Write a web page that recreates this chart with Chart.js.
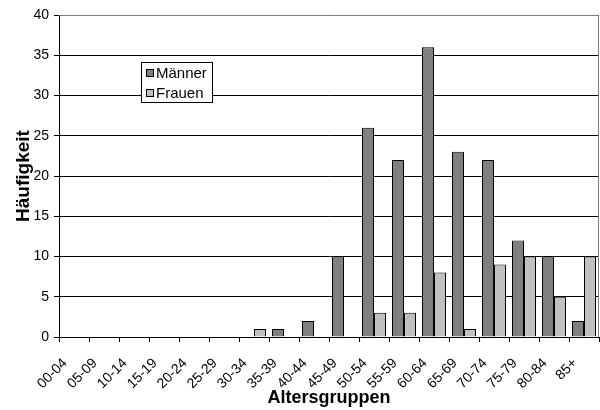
<!DOCTYPE html>
<html>
<head>
    <title>Altersgruppen</title>
    <style>
        body { margin: 0; background: #fff; }
        #chart { display: block; }
    </style>
</head>
<body>
    <canvas id="chart" width="600" height="410"></canvas>
    <script src="https://cdn.jsdelivr.net/npm/chart.js"></script>
    <script>
        const ageGroups = ['00-04', '05-09', '10-14', '15-19', '20-24', '25-29', '30-34', '35-39', '40-44',
            '45-49', '50-54', '55-59', '60-64', '65-69', '70-74', '75-79', '80-84', '85+'];
        const maenner = [0, 0, 0, 0, 0, 0, 0, 1, 2, 10, 26, 22, 36, 23, 22, 12, 10, 2];
        const frauen = [0, 0, 0, 0, 0, 0, 1, 0, 0, 0, 3, 3, 8, 1, 9, 10, 5, 10];
        const seriesNames = ['Männer', 'Frauen'];
        const seriesColors = ['#808080', '#c0c0c0'];

        const font = 'Liberation Sans, Arial, sans-serif';

        // frame round the plot and the small legend box inside it
        const boxPlugin = {
            id: 'boxPlugin',
            afterDraw(chart) {
                const c = chart.ctx;
                const a = chart.chartArea;
                c.save();
                c.strokeStyle = '#808080';
                c.lineWidth = 1;
                c.beginPath();
                c.moveTo(a.left, a.top + 0.5);
                c.lineTo(a.right - 0.5, a.top + 0.5);
                c.lineTo(a.right - 0.5, a.bottom);
                c.stroke();

                const x = 141, y = 62, w = 71, h = 40;
                c.fillStyle = '#fff';
                c.fillRect(x, y, w, h);
                c.strokeStyle = '#000';
                c.strokeRect(x + 0.5, y + 0.5, w, h);
                c.font = '15px ' + font;
                c.textBaseline = 'middle';
                chart.data.datasets.forEach((ds, i) => {
                    const cy = y + 11 + i * 20;
                    c.fillStyle = ds.backgroundColor;
                    c.fillRect(x + 5.5, cy - 3.5, 7, 7);
                    c.strokeStyle = '#000';
                    c.strokeRect(x + 5.5, cy - 3.5, 7, 7);
                    c.fillStyle = '#000';
                    c.fillText(ds.label, x + 15, cy + 1);
                });
                c.restore();
            }
        };

        new Chart(document.getElementById('chart'), {
            type: 'bar',
            data: {
                labels: ageGroups,
                datasets: [
                    { label: seriesNames[0], data: maenner, backgroundColor: seriesColors[0], borderColor: '#000', borderWidth: 1 },
                    { label: seriesNames[1], data: frauen, backgroundColor: seriesColors[1], borderColor: '#000', borderWidth: 1 }
                ]
            },
            options: {
                responsive: false,
                animation: false,
                layout: { padding: { top: 15, right: 1, left: 0, bottom: 0 } },
                datasets: { bar: { categoryPercentage: 0.8, barPercentage: 1 } },
                plugins: {
                    legend: { display: false },
                    tooltip: { enabled: false }
                },
                scales: {
                    x: {
                        offset: true,
                        grid: { offset: true, drawOnChartArea: false, drawTicks: true, tickLength: 5, color: '#000' },
                        border: { color: '#000' },
                        ticks: { minRotation: 45, maxRotation: 45, color: '#000', font: { family: font, size: 14 }, padding: 13, labelOffset: -9 },
                        title: { display: true, text: 'Altersgruppen', color: '#000', font: { family: font, size: 18, weight: 'bold' }, padding: { top: 0, bottom: 1 } },
                        afterFit: s => {
                            s.height = 73;
                            s.paddingLeft = 0;
                            s.paddingRight = 0;
                        }
                    },
                    y: {
                        min: 0,
                        max: 40,
                        ticks: { stepSize: 5, color: '#000', font: { family: font, size: 14 }, padding: 5 },
                        grid: { color: '#000', tickLength: 5 },
                        border: { color: '#000' },
                        title: { display: true, text: 'Häufigkeit', color: '#000', font: { family: font, size: 19, weight: 'bold' }, padding: { top: 12, bottom: 0 } },
                        afterFit: s => {
                            s.width = 59;
                            s.paddingTop = 0;
                            s.paddingBottom = 0;
                        }
                    }
                }
            },
            plugins: [boxPlugin]
        });
    </script>
</body>
</html>
